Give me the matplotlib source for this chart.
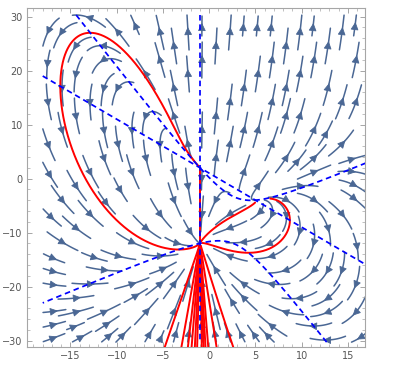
import numpy as np
import matplotlib
matplotlib.use("Agg")
import matplotlib.pyplot as plt
from matplotlib.ticker import FixedLocator, MultipleLocator
from matplotlib.collections import LineCollection
from matplotlib.patches import FancyArrowPatch

# ---------------- values ----------------
x_ticks = [-15, -10, -5, 0, 5, 10, 15]
y_ticks = [-30, -20, -10, 0, 10, 20, 30]
x_limits = [-19.7, 16.85]
y_limits = [-31.2, 31.6]
field_x = [-18.0, 17.0]
field_y = [-30.3, 30.3]

# x-nullcline (dashed): the lines x + 1 = 0 and x + y - 1 = 0   (a*x + b*y + c)
u_line_a = [1.0, 0.0, 1.0]
u_line_b = [1.0, 1.0, -1.0]
# y-nullcline (dashed): hyperbola with these asymptote slopes through these rest points
v_slopes = [-2.2, 0.72]
rest_x = [-1.0, -1.0, 5.0]
rest_y = [2.0, -12.0, -4.0]
u_damp = 0.008          # weakening of horizontal flow in the upper right

# red solution curves: seeds, traced both ways (1) or forward only (0)
red_seed_x = [-15.6, -1.0, 2.0, 6.6]
red_seed_y = [10.0, -5.0, -7.5, -3.7]
red_both = [1, 1, 1, 0]
# a fan of red curves traced from the bottom edge
fan_x = [-4.8, -3.0, -2.3, -1.9, -1.55, -1.3, -0.8, -0.6, -0.4, -0.1, 0.8, 2.6]
fan_y = -31.2

stream_color = "#4a6794"
# ---------------------------------------------------------------

s_as = -v_slopes[0]
m_as = v_slopes[1]
px_ = np.array(rest_y) + s_as * np.array(rest_x)
qx_ = np.array(rest_y) - m_as * np.array(rest_x)
M = np.column_stack([qx_, px_, np.ones(3)])
A_c, B_c, K_c = np.linalg.solve(M, -px_ * qx_)
k_c = A_c * B_c - K_c


def u_field(x, y):
    a = u_line_a[0] * x + u_line_a[1] * y + u_line_a[2]
    b = u_line_b[0] * x + u_line_b[1] * y + u_line_b[2]
    g = 1.0 + u_damp * np.maximum(x + 1.0, 0.0) * np.maximum(y + 6.0, 0.0)
    return a * b / g


def v_field(x, y):
    return (y + s_as * x + A_c) * (y - m_as * x + B_c) - k_c


fig = plt.figure(figsize=(3.93, 3.70), dpi=100)
ax = fig.add_axes([27 / 393, 1 - 347 / 370, (365 - 27) / 393, (347 - 8) / 370])
ax.set_xlim(*x_limits)
ax.set_ylim(*y_limits)

W = x_limits[1] - x_limits[0]
H = y_limits[1] - y_limits[0]
PXW = 365 - 27
PXH = 347 - 8


def to_px(x, y):
    return (x - x_limits[0]) / W * PXW, (y - y_limits[0]) / H * PXH


def to_data(X, Y):
    return x_limits[0] + X / PXW * W, y_limits[0] + Y / PXH * H


FX0, FY0 = to_px(field_x[0], field_y[0])
FX1, FY1 = to_px(field_x[1], field_y[1])
REST_PX = [to_px(a, b) for a, b in zip(rest_x, rest_y)]


def in_field(X, Y):
    return FX0 <= X <= FX1 and FY0 <= Y <= FY1


def pdir(X, Y):
    x, y = to_data(X, Y)
    a = float(u_field(x, y)) * PXW / W
    b = float(v_field(x, y)) * PXH / H
    n = (a * a + b * b) ** 0.5
    if n == 0:
        return 0.0, 0.0, 0.0
    return a / n, b / n, n


# ---------------- Mathematica-like stream segments ----------------
dsep = 14.0
dseed = 11.0
dtest = 3.8
Lhalf = 18.0
Lmin = 7.0
hstep = 1.0
eps_sp = 3.0
cell = 4.0
occ = {}


def near_any(X, Y, d):
    ci, cj = int(X // cell), int(Y // cell)
    r = int(np.ceil(d / cell))
    d2 = d * d
    for i in range(ci - r, ci + r + 1):
        for j in range(cj - r, cj + r + 1):
            lst = occ.get((i, j))
            if lst:
                for (qx, qy) in lst:
                    if (qx - X) ** 2 + (qy - Y) ** 2 < d2:
                        return True
    return False


def integrate(X0, Y0, sgn):
    pts = []
    X, Y = X0, Y0
    L = 0.0
    while L < Lhalf:
        a, b, n = pdir(X, Y)
        if n < eps_sp:
            break
        a2, b2, n2 = pdir(X + 0.5 * hstep * sgn * a, Y + 0.5 * hstep * sgn * b)
        if n2 < eps_sp:
            break
        Xn, Yn = X + hstep * sgn * a2, Y + hstep * sgn * b2
        if not in_field(Xn, Yn) or near_any(Xn, Yn, dtest):
            break
        pts.append((Xn, Yn))
        X, Y = Xn, Yn
        L += hstep
    return pts


seedsX = np.arange(dsep / 2, PXW, dsep)
seedsY = np.arange(dsep / 2, PXH, dsep)
order = sorted([(i, j) for i in range(len(seedsX)) for j in range(len(seedsY))],
               key=lambda t: ((t[0] * 37 + t[1] * 61) % 97, t[0], t[1]))
stream_lines = []
for (i, j) in order:
    X0, Y0 = seedsX[i], seedsY[j]
    if not in_field(X0, Y0) or near_any(X0, Y0, dseed):
        continue
    back = integrate(X0, Y0, -1.0)
    fwd = integrate(X0, Y0, 1.0)
    pts = back[::-1] + [(X0, Y0)] + fwd
    if (len(pts) - 1) * hstep < Lmin:
        continue
    for (qx, qy) in pts:
        occ.setdefault((int(qx // cell), int(qy // cell)), []).append((qx, qy))
    stream_lines.append(np.array(pts))

segs = []
for pts in stream_lines:
    xd, yd = to_data(pts[:, 0], pts[:, 1])
    segs.append(np.column_stack([xd, yd]))
    k = max(2, int(round(0.65 * (len(pts) - 1))))
    ax.add_patch(FancyArrowPatch((xd[k - 2], yd[k - 2]), (xd[k], yd[k]), arrowstyle="-|>",
                                 mutation_scale=12, color=stream_color, lw=0.6,
                                 shrinkA=0, shrinkB=0, zorder=1.5))
ax.add_collection(LineCollection(segs, colors=stream_color, linewidths=1.1,
                                 capstyle="round", zorder=1))


# ---------------- red trajectories ----------------
def dirn(x, y, sgn):
    uu = float(u_field(x, y)) / W
    vv = float(v_field(x, y)) / H
    sp = (uu * uu + vv * vv) ** 0.5
    if sp == 0:
        return 0.0, 0.0, 0.0
    return sgn * uu / sp, sgn * vv / sp, sp


def near_rest(x, y, r=2.5):
    X, Y = to_px(x, y)
    return any((X - a) ** 2 + (Y - b) ** 2 < r * r for a, b in REST_PX)


def trace(x0, y0, sgn, ds=0.0012, nmax=6000, eps=0.0015):
    xs, ys = [x0], [y0]
    x, y = x0, y0
    prev = None
    for _ in range(nmax):
        k1x, k1y, sp = dirn(x, y, sgn)
        if sp < eps:
            break
        if prev is not None and (k1x * prev[0] + k1y * prev[1]) < 0:
            break
        prev = (k1x, k1y)
        k2x, k2y, _s = dirn(x + 0.5 * ds * k1x * W, y + 0.5 * ds * k1y * H, sgn)
        k3x, k3y, _s = dirn(x + 0.5 * ds * k2x * W, y + 0.5 * ds * k2y * H, sgn)
        k4x, k4y, _s = dirn(x + ds * k3x * W, y + ds * k3y * H, sgn)
        x = x + ds * W * (k1x + 2 * k2x + 2 * k3x + k4x) / 6
        y = y + ds * H * (k1y + 2 * k2y + 2 * k3y + k4y) / 6
        xs.append(x)
        ys.append(y)
        if near_rest(x, y):
            break
        if not (x_limits[0] - 1 < x < x_limits[1] + 1 and y_limits[0] - 1 < y < y_limits[1] + 1):
            break
    return np.array(xs), np.array(ys)


red_kw = dict(color="red", lw=1.4, zorder=3, solid_capstyle="round")
for sx, sy, both in zip(red_seed_x, red_seed_y, red_both):
    fx, fy = trace(sx, sy, 1.0)
    if both:
        bx, by = trace(sx, sy, -1.0)
        fx = np.concatenate([bx[::-1], fx[1:]])
        fy = np.concatenate([by[::-1], fy[1:]])
    ax.plot(fx, fy, **red_kw)
for sx in fan_x:
    fx, fy = trace(sx, fan_y, 1.0)
    ax.plot(fx, fy, **red_kw)

# ---------------- dashed nullclines ----------------
xg = np.linspace(field_x[0], field_x[1], 201)
yg = np.linspace(field_y[0], field_y[1], 201)
XG, YG = np.meshgrid(xg, yg)
VG = v_field(XG, YG)
dash_kw = dict(colors="blue", linewidths=1.25, zorder=4)
cs = []
cs.append(ax.contour(XG, YG, u_line_a[0] * XG + u_line_a[1] * YG + u_line_a[2], [0], **dash_kw))
cs.append(ax.contour(XG, YG, u_line_b[0] * XG + u_line_b[1] * YG + u_line_b[2], [0], **dash_kw))
cs.append(ax.contour(XG, YG, VG, [0], **dash_kw))
for c in cs:
    c.set_linestyle((0, (3.2, 2.2)))

# ---------------- frame & ticks ----------------
ax.set_xlim(*x_limits)
ax.set_ylim(*y_limits)
for sp_ in ax.spines.values():
    sp_.set_color("#a6a6a6")
    sp_.set_linewidth(0.8)
ax.xaxis.set_major_locator(FixedLocator(x_ticks))
ax.yaxis.set_major_locator(FixedLocator(y_ticks))
ax.xaxis.set_minor_locator(MultipleLocator(1))
ax.yaxis.set_minor_locator(MultipleLocator(2))
ax.tick_params(which="both", direction="in", top=True, right=True, color="#a6a6a6",
               labelsize=7, labelcolor="#555555")
ax.tick_params(which="major", length=3.5, width=0.7)
ax.tick_params(which="minor", length=2, width=0.5)
ax.tick_params(axis="x", pad=3)
ax.tick_params(axis="y", pad=3)

fig.savefig("out.png", dpi=100)
